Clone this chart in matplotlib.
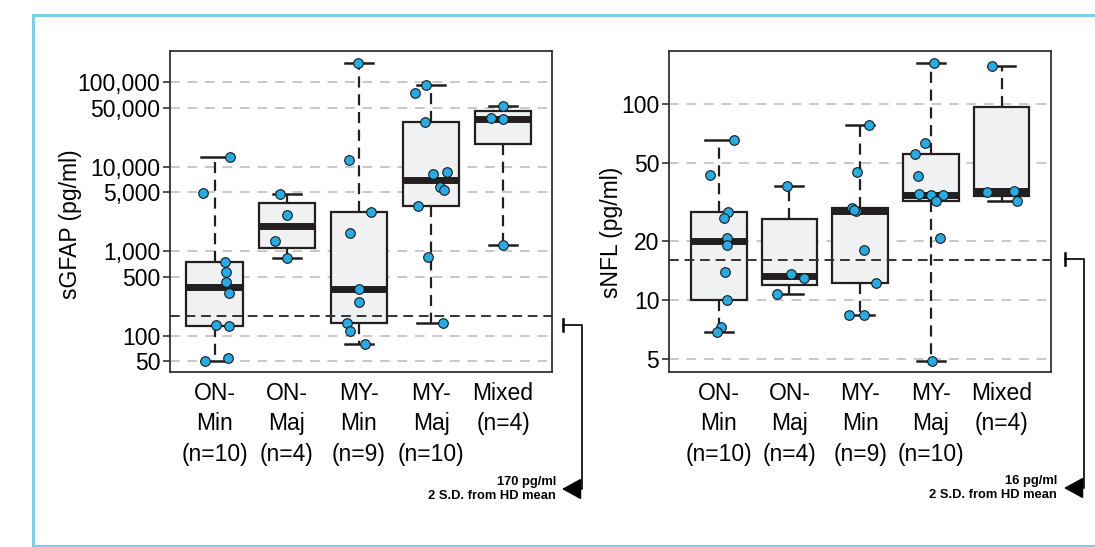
import numpy as np
import matplotlib
matplotlib.use("Agg")
import matplotlib.pyplot as plt
from matplotlib.lines import Line2D

plt.rcParams['font.family'] = ['Liberation Sans', 'DejaVu Sans']

W, H = 1095, 547

groups = ["ON-\nMin\n(n=10)", "ON-\nMaj\n(n=4)", "MY-\nMin\n(n=9)", "MY-\nMaj\n(n=10)", "Mixed\n(n=4)"]

# sGFAP values (pg/ml)
gfap_on_min = [12900, 4840, 745, 563, 429, 318, 135, 128, 50.6, 54.9]
gfap_on_maj = [4700, 2680, 1321, 830]
gfap_my_min = [167500, 11900, 2911, 1641, 357, 250, 142.6, 113.7, 79.1]
gfap_my_maj = [92700, 73900, 34100, 8730, 8260, 5750, 5340, 3455, 854, 141]
gfap_mixed = [52700, 37700, 36400, 1175]
gfap = [gfap_on_min, gfap_on_maj, gfap_my_min, gfap_my_maj, gfap_mixed]
gfap_jitter = [[0.21, -0.16, 0.14, 0.15, 0.15, 0.19, 0.01, 0.19, -0.14, 0.18],
               [-0.09, 0.0, -0.17, 0.0],
               [-0.02, -0.14, 0.17, -0.12, 0.0, 0.0, -0.17, -0.12, 0.09],
               [-0.07, -0.22, -0.09, 0.22, 0.03, 0.13, 0.18, -0.18, -0.04, 0.16],
               [0.0, -0.17, 0.0, 0.0]]
gfap_ticks = [50, 100, 500, 1000, 5000, 10000, 50000, 100000]
gfap_cut = 170

# sNFL values (pg/ml)
nfl_on_min = [65.3, 43.1, 28.1, 26.0, 20.7, 19.0, 13.8, 10.0, 7.28, 6.82]
nfl_on_maj = [38.0, 13.6, 12.95, 10.7]
nfl_my_min = [77.8, 44.7, 29.4, 28.5, 28.8, 17.9, 12.2, 8.4, 8.32]
nfl_my_maj = [160.7, 62.8, 55.4, 42.7, 34.5, 34.2, 34.1, 31.8, 20.6, 4.89]
nfl_mixed = [156.3, 35.6, 35.9, 31.8]
nfl = [nfl_on_min, nfl_on_maj, nfl_my_min, nfl_my_maj, nfl_mixed]
nfl_jitter = [[0.21, -0.12, 0.13, 0.08, 0.11, 0.11, 0.09, 0.12, 0.03, -0.03],
              [-0.04, 0.02, 0.21, -0.18],
              [0.13, -0.04, -0.11, -0.06, -0.08, 0.05, 0.23, 0.06, -0.16],
              [0.05, -0.08, -0.23, -0.18, -0.17, 0.0, 0.17, 0.07, 0.13, 0.02],
              [-0.13, -0.21, 0.18, 0.22]]
nfl_ticks = [5, 10, 20, 50, 100]
nfl_cut = 16

DARK = '#231f20'
BLUE = '#2aaae2'


def fivenum(v):
    # Tukey hinges, same as R's boxplot
    v = np.sort(np.asarray(v, float))
    n = len(v)
    n4 = np.floor((n + 3) / 2) / 2
    d = np.array([1, n4, (n + 1) / 2, n + 1 - n4, n]) - 1
    return 0.5 * (v[np.floor(d).astype(int)] + v[np.ceil(d).astype(int)])


def panel(ax, data, jitter, ticks, cut, ylim, xlim, ylabel, label_xy):
    pos = np.arange(1, len(data) + 1)
    stats = []
    for vals in data:
        lo, q1, med, q3, hi = fivenum(vals)
        stats.append(dict(med=med, q1=q1, q3=q3, whislo=lo, whishi=hi, fliers=[]))
    ax.set_yscale('log')
    for t in ticks:
        ax.axhline(t, color='#c8c8c8', lw=1.4, ls=(0, (5, 4)), zorder=0.5)
    ax.bxp(stats, positions=pos, widths=0.79, patch_artist=True, showfliers=False,
           boxprops=dict(facecolor='#f0f1f3', edgecolor=DARK, linewidth=1.6),
           medianprops=dict(color=DARK, linewidth=5, solid_capstyle='butt'),
           whiskerprops=dict(color=DARK, linewidth=1.6, linestyle=(0, (5, 3))),
           capprops=dict(color=DARK, linewidth=1.8), zorder=2)
    ax.axhline(cut, color='#333333', lw=1.4, ls=(0, (5, 3)), zorder=3)
    for p, vals, jit in zip(pos, data, jitter):
        ax.scatter(p + np.array(jit), vals, s=48, c=BLUE, edgecolors='#1a1a1a',
                   linewidths=0.8, zorder=4)
    ax.set_ylim(*ylim)
    ax.set_xlim(*xlim)
    ax.set_yticks(ticks)
    ax.set_yticklabels([f"{t:,}" for t in ticks])
    ax.yaxis.set_minor_locator(matplotlib.ticker.NullLocator())
    ax.set_xticks(pos)
    ax.set_xticklabels(groups, linespacing=1.42)
    ax.tick_params(axis='x', length=0, pad=7, labelsize=16.5)
    ax.tick_params(axis='y', length=5, width=1.2, color='#333333', pad=2, labelsize=16.5)
    for s in ax.spines.values():
        s.set_color('#333333')
        s.set_linewidth(1.3)
    ax.set_ylabel(ylabel, fontsize=16.5)
    ax.yaxis.set_label_coords(*label_xy)


def bracket(fig, tick_x, y_top, vert_x, y_bot, text_x, text):
    fx = lambda x: x / W
    fy = lambda y: 1 - y / H
    kw = dict(transform=fig.transFigure, color='black', lw=1.2)
    fig.add_artist(Line2D([fx(tick_x)] * 2, [fy(y_top - 6), fy(y_top + 6)], lw=1.8,
                          transform=fig.transFigure, color='black'))
    fig.add_artist(Line2D([fx(tick_x), fx(vert_x), fx(vert_x), fx(vert_x - 8)],
                          [fy(y_top), fy(y_top), fy(y_bot), fy(y_bot)], **kw))
    fig.add_artist(matplotlib.patches.FancyArrowPatch(
        (fx(vert_x - 4), fy(y_bot)), (fx(tick_x - 1), fy(y_bot)),
        transform=fig.transFigure, arrowstyle='-|>,head_length=0.6,head_width=0.33',
        mutation_scale=20, color='black', lw=1.2, shrinkA=0, shrinkB=0))
    fig.text(fx(text_x), fy(y_bot), text, ha='right', va='center', ma='right',
             fontsize=9.3, fontweight='bold', linespacing=1.3)


fig = plt.figure(figsize=(W / 100, H / 100), dpi=100)

ax1 = fig.add_axes([170 / W, 1 - 372 / H, 382 / W, 321 / H])
panel(ax1, gfap, gfap_jitter, gfap_ticks, gfap_cut, (37, 234000), (0.376, 5.68),
      'sGFAP (pg/ml)', (-0.23, 0.46))

ax2 = fig.add_axes([669 / W, 1 - 372 / H, 382 / W, 321 / H])
panel(ax2, nfl, nfl_jitter, nfl_ticks, nfl_cut, (4.28, 185.8), (0.296, 5.70),
      'sNFL (pg/ml)', (-0.12, 0.435))

bracket(fig, 563, 325, 582, 489, 556, f"{gfap_cut} pg/ml\n2 S.D. from HD mean")
bracket(fig, 1065, 259, 1084, 488, 1057, f"{nfl_cut} pg/ml\n2 S.D. from HD mean")

# light blue frame round the figure
frame = dict(transform=fig.transFigure, color='#7ecdec', lw=2.2)
fig.add_artist(Line2D([33 / W, 33 / W], [1 - 15 / H, 1 - 546 / H], **frame))
fig.add_artist(Line2D([33 / W, 1.0], [1 - 15 / H, 1 - 15 / H], **frame))
fig.add_artist(Line2D([33 / W, 1.0], [1 - 546 / H, 1 - 546 / H], **frame))

fig.savefig('out.png', dpi=100)
